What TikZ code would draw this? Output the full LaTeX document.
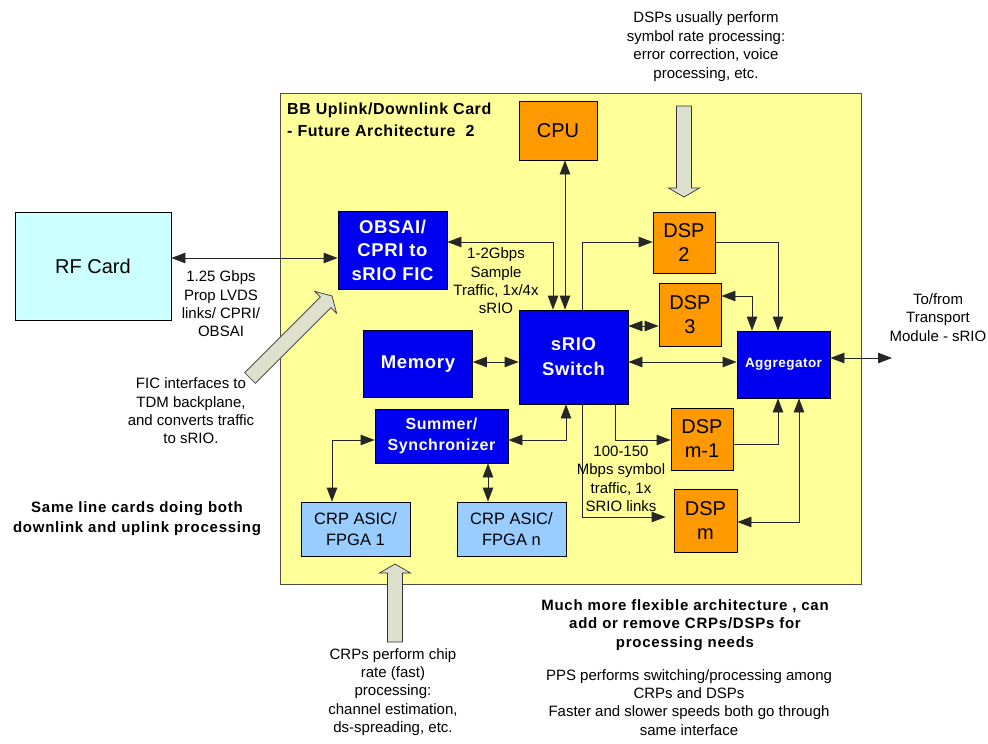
\documentclass[tikz,border=0pt]{standalone}
\usepackage{fontspec}
\setmainfont{Liberation Sans}
\newfontfamily\spbold[LetterSpace=5]{Liberation Sans}
\newfontfamily\spboldb[LetterSpace=3.5]{Liberation Sans}
\usetikzlibrary{arrows.meta}
\definecolor{cardyellow}{RGB}{255,255,153}
\definecolor{cardedge}{RGB}{80,80,70}
\definecolor{orng}{RGB}{255,153,0}
\definecolor{bblue}{RGB}{0,0,240}
\definecolor{crpblue}{RGB}{153,204,255}
\definecolor{rfcyan}{RGB}{204,255,255}
\definecolor{fatfill}{RGB}{221,224,204}
\tikzset{
  box/.style={draw=black, line width=0.8pt, inner sep=0pt, align=center},
  orangebox/.style={box, fill=orng, font=\fontsize{20}{24}\selectfont},
  bluebox/.style={box, fill=bblue, text=white, font=\spboldb\bfseries\fontsize{18.5}{23.5}\selectfont},
  crpbox/.style={box, fill=crpblue, font=\fontsize{16.5}{21.7}\selectfont},
  lbl/.style={align=center, inner sep=0pt, font=\fontsize{15}{18.4}\selectfont},
  boldlbl/.style={align=center, inner sep=0pt, font=\spbold\bfseries\fontsize{15}{18.5}\selectfont},
  conn/.style={draw=black!85, line width=0.8pt},
  arr/.style={conn, -{Triangle[length=14pt,width=10.5pt]}},
  dbl/.style={conn, {Triangle[length=14pt,width=10.5pt]}-{Triangle[length=14pt,width=10.5pt]}},
  fatarr/.style={draw=black!80, line width=0.7pt, fill=fatfill},
  pics/fatarrow/.style={code={
    \draw[fatarr] (0,-7.5) -- ({#1-9},-7.5) -- ({#1-9},-15.5) -- (#1,0)
      -- ({#1-9},15.5) -- ({#1-9},7.5) -- (0,7.5) -- cycle;}}
}
\begin{document}
\begin{tikzpicture}[x=1pt,y=-1pt]
\useasboundingbox (0,0) rectangle (988,744);
% card
\node[draw=cardedge, line width=0.8pt, fill=cardyellow, minimum width=581pt, minimum height=491pt, inner sep=0pt] (card) at (570.5,338.5) {};
\node[anchor=west, align=left, inner sep=0pt, font=\spboldb\bfseries\fontsize{16}{22}\selectfont] (title) at (287,120) {BB Uplink/Downlink Card\\- Future Architecture~ 2};
% blocks
\node[box, fill=rfcyan, font=\fontsize{20}{24}\selectfont, minimum width=156pt, minimum height=108pt] (rf) at (93,266) {RF Card};
\node[orangebox, minimum width=78pt, minimum height=59pt] (cpu) at (558,130.5) {CPU};
\node[bluebox, minimum width=109pt, minimum height=78pt] (obsai) at (392.5,250) {OBSAI/\\CPRI to\\sRIO FIC};
\node[bluebox, minimum width=109pt, minimum height=94pt, font=\spboldb\bfseries\fontsize{18.5}{25}\selectfont] (sw) at (573.5,357) {sRIO\\Switch};
\node[bluebox, minimum width=109pt, minimum height=67pt] (mem) at (418,363.7) {Memory};
\node[bluebox, minimum width=93pt, minimum height=67pt, font=\spboldb\bfseries\fontsize{13.5}{16}\selectfont] (agg) at (783.5,364.5) {Aggregator};
\node[bluebox, minimum width=133pt, minimum height=54pt, font=\spboldb\bfseries\fontsize{16}{21.7}\selectfont] (sum) at (441.5,436) {Summer/\\Synchronizer};
\node[orangebox, minimum width=62pt, minimum height=61pt] (dsp2) at (684,242.5) {DSP\\2};
\node[orangebox, minimum width=62pt, minimum height=63pt] (dsp3) at (690,314.5) {DSP\\3};
\node[orangebox, minimum width=62pt, minimum height=62pt] (dspm1) at (702,439) {DSP\\m-1};
\node[orangebox, minimum width=63pt, minimum height=63pt] (dspm) at (705.5,520.5) {DSP\\m};
\node[crpbox, minimum width=109pt, minimum height=54pt] (crp1) at (355.5,529) {CRP ASIC/\\FPGA 1};
\node[crpbox, minimum width=109pt, minimum height=54pt] (crpn) at (511.5,529) {CRP ASIC/\\FPGA n};
% connector bend points
\coordinate (A) at (553,242);
\coordinate (B) at (582,242);
\coordinate (C) at (778,242);
\coordinate (D) at (752,296);
\coordinate (E) at (640,326);
\coordinate (F) at (640,362);
\coordinate (G) at (566,440);
\coordinate (H) at (615,440);
\coordinate (I) at (582,517);
\coordinate (J) at (778,444);
\coordinate (K) at (799,522);
\coordinate (L) at (892,358);
\coordinate (M) at (332,440);
\coordinate (N) at (488,480);
\coordinate (O) at (250,258);
\coordinate (P) at (565,200);
% connectors
\draw[dbl] (rf.east |- O) -- (obsai.west |- O);
\draw[dbl] (cpu.south -| P) -- (sw.north -| P);
\draw[dbl] (obsai.east |- A) -- (A) -- (sw.north -| A);
\draw[arr] (sw.north -| B) -- (B) -- (dsp2.west |- B);
\draw[arr] (dsp2.east |- C) -- (C) -- (agg.north -| C);
\draw[dbl] (dsp3.east |- D) -- (D) -- (agg.north -| D);
\draw[dbl] (sw.east |- E) -- (dsp3.west |- E);
\draw[dbl] (sw.east |- F) -- (agg.west |- F);
\draw[dbl] (mem.east |- F) -- (sw.west |- F);
\draw[dbl] (sw.south -| G) -- (G) -- (sum.east |- G);
\draw[arr] (sw.south -| H) -- (H) -- (dspm1.west |- H);
\draw[arr] (sw.south -| I) -- (I) -- ([xshift=-8pt]dspm.west |- I);
\draw[arr] (dspm1.east |- J) -- (J) -- (agg.south -| J);
\draw[dbl] (dspm.east |- K) -- (K) -- (agg.south -| K);
\draw[dbl] (agg.east |- L) -- (L);
\draw[dbl] (sum.west |- M) -- (M) -- (crp1.north -| M);
\draw[dbl] (sum.south -| N) -- (crpn.north -| N);
% fat arrows
\pic[rotate=-90] at (684,106) {fatarrow=91};
\pic[rotate=90] at (395,642) {fatarrow=78};
\pic[rotate=45] at (250,378) {fatarrow=116};
% labels
\node[lbl] (lrf) at (221,304) {1.25 Gbps\\Prop LVDS\\links/ CPRI/\\OBSAI};
\node[lbl] (lsample) at (496,281) {1-2Gbps\\Sample\\Traffic, 1x/4x\\sRIO};
\node[lbl] (lsym) at (621,479) {100-150\\Mbps symbol\\traffic, 1x\\SRIO links};
\node[lbl] (ltr) at (938,317.5) {To/from\\Transport\\Module - sRIO};
\node[lbl] (ldsp) at (706,46.6) {DSPs usually perform\\symbol rate processing:\\error correction, voice\\processing, etc.};
\node[lbl] (lfic) at (191,411) {FIC interfaces to\\TDM backplane,\\and converts traffic\\to sRIO.};
\node[lbl] (lcrp) at (393,692) {CRPs perform chip\\rate (fast)\\processing:\\channel estimation,\\ds-spreading, etc.};
\node[lbl] (lpps) at (689,702.3) {PPS performs switching/processing among\\CRPs and DSPs\\Faster and slower speeds both go through\\same interface};
\node[boldlbl, font=\spbold\bfseries\fontsize{15}{20}\selectfont] (lsame) at (137,519) {Same line cards doing both\\downlink and uplink processing};
\node[boldlbl] (lmuch) at (685,625) {Much more flexible architecture , can\\add or remove CRPs/DSPs for\\processing needs};
\end{tikzpicture}
\end{document}
